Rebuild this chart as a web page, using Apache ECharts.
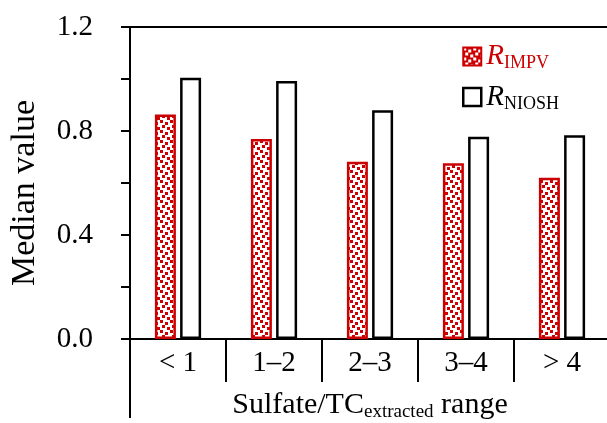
<!DOCTYPE html>
<html>
<head>
<meta charset="utf-8">
<script src="https://cdn.jsdelivr.net/npm/echarts@6/dist/echarts.min.js"></script>
<style>
  html, body { margin: 0; padding: 0; background: #fff; }
  #chart { width: 607px; height: 423px; }
</style>
</head>
<body>
<div id="chart"></div>
<script>
// data
const categories = ['< 1', '1\u20132', '2\u20133', '3\u20134', '> 4'];
const impvValues = [0.863, 0.769, 0.682, 0.676, 0.620];
const nioshValues = [1.005, 0.992, 0.880, 0.778, 0.784];
const yTicks = [0.0, 0.4, 0.8, 1.2];

const RED = '#cc0000';
const FONT = '"Liberation Serif", "Times New Roman", serif';

// dotted fill: squares of one colour on another
function makeDots(bg, fg) {
  const c = document.createElement('canvas');
  c.width = 10; c.height = 10;
  const ctx = c.getContext('2d');
  ctx.fillStyle = bg;
  ctx.fillRect(0, 0, 10, 10);
  ctx.fillStyle = fg;
  [[0, 0], [5, 2], [2, 5], [7, 7]].forEach(p => ctx.fillRect(p[0], p[1], 3, 3));
  return c;
}

const chart = echarts.init(document.getElementById('chart'));

const option = {
  animation: false,
  textStyle: { fontFamily: FONT },
  grid: { left: 130, top: 27, width: 480, height: 312, outerBoundsMode: 'none', containLabel: false },
  legend: {
    left: 457,
    top: 37,
    orient: 'vertical',
    icon: 'rect',
    itemWidth: 18,
    itemHeight: 18,
    itemGap: 10,
    data: [
      { name: 'IMPV', itemStyle: { color: { image: makeDots(RED, '#fff'), repeat: 'repeat' }, borderColor: RED, borderWidth: 2 } },
      { name: 'NIOSH', itemStyle: { color: '#fff', borderColor: '#000', borderWidth: 2.5 } }
    ],
    formatter: name => name === 'IMPV' ? '{ri|R}{si|IMPV}' : '{rn|R}{sn|NIOSH}',
    textStyle: {
      fontFamily: FONT,
      rich: {
        ri: { fontSize: 29, fontStyle: 'italic', color: RED, fontFamily: FONT },
        si: { fontSize: 18, color: RED, fontFamily: FONT, padding: [14, 0, 0, 0] },
        rn: { fontSize: 29, fontStyle: 'italic', color: '#000', fontFamily: FONT },
        sn: { fontSize: 18, color: '#000', fontFamily: FONT, padding: [14, 0, 0, 0] }
      }
    }
  },
  xAxis: [
    {
      type: 'category',
      data: categories,
      position: 'bottom',
      axisLine: { lineStyle: { color: '#000', width: 2 } },
      axisTick: { show: true, length: 43, lineStyle: { color: '#000', width: 2 } },
      axisLabel: { color: '#000', fontSize: 29, margin: 10, fontFamily: FONT },
      name: 'Sulfate/TC{sub|extracted} range',
      nameLocation: 'middle',
      nameGap: 50,
      nameTextStyle: {
        color: '#000', fontSize: 30, fontFamily: FONT,
        rich: { sub: { fontSize: 19, fontFamily: FONT, color: '#000', padding: [14, 0, 0, 0] } }
      }
    },
    {
      type: 'category',
      data: categories,
      position: 'top',
      axisLine: { lineStyle: { color: '#000', width: 2 } },
      axisTick: { show: false },
      axisLabel: { show: false }
    }
  ],
  yAxis: {
    type: 'value',
    min: 0,
    max: 1.2,
    interval: 0.2,
    splitLine: { show: false },
    axisLine: { show: true, lineStyle: { color: '#000', width: 2 } },
    axisTick: { show: true, length: 9, lineStyle: { color: '#000', width: 2 } },
    axisLabel: {
      color: '#000', fontSize: 29, margin: 37, fontFamily: FONT,
      formatter: v => yTicks.some(t => Math.abs(t - v) < 1e-6) ? v.toFixed(1) : ''
    },
    name: 'Median value',
    nameLocation: 'middle',
    nameGap: 88,
    nameTextStyle: { color: '#000', fontSize: 34, fontFamily: FONT, padding: [0, 20, 0, 0] }
  },
  graphic: [
    // left frame line continuing below the axis
    { type: 'line', shape: { x1: 130, y1: 339, x2: 130, y2: 418 }, style: { stroke: '#000', lineWidth: 2 } }
  ],
  series: [
    {
      name: 'IMPV',
      type: 'bar',
      data: impvValues,
      barWidth: 21,
      barGap: '20%',
      itemStyle: {
        color: { image: makeDots('#fff', RED), repeat: 'repeat' },
        borderColor: RED,
        borderWidth: 2.5
      }
    },
    {
      name: 'NIOSH',
      type: 'bar',
      data: nioshValues,
      barWidth: 21,
      itemStyle: { color: '#fff', borderColor: '#000', borderWidth: 2.5 }
    }
  ]
};

chart.setOption(option);
</script>
</body>
</html>
